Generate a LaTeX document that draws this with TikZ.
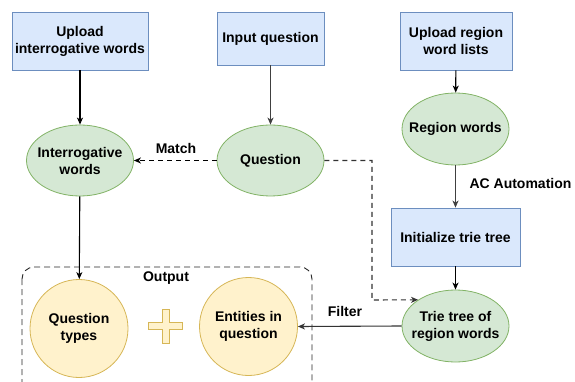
\documentclass[tikz,border=0pt]{standalone}
\usepackage{fontspec}
\setmainfont{Liberation Sans}
\usetikzlibrary{arrows.meta,shapes.geometric}
\definecolor{bluefill}{HTML}{DAE8FC}
\definecolor{bluedraw}{HTML}{6C8EBF}
\definecolor{greenfill}{HTML}{D5E8D4}
\definecolor{greendraw}{HTML}{82B366}
\definecolor{yellowfill}{HTML}{FFF2CC}
\definecolor{yellowdraw}{HTML}{D6B656}
\begin{document}
\begin{tikzpicture}[x=1pt,y=-1pt,
  font=\fontsize{14}{17}\selectfont\bfseries,
  every node/.style={align=center,inner sep=0pt},
  stepbox/.style={draw=bluedraw,fill=bluefill,line width=0.8pt,shape=rectangle},
  oval/.style={draw=greendraw,fill=greenfill,line width=0.8pt,shape=ellipse,minimum width=107pt,minimum height=71pt},
  result/.style={draw=yellowdraw,fill=yellowfill,line width=0.8pt,shape=circle,minimum size=98pt},
  flow/.style={line width=1.1pt,-{Stealth[length=7pt,width=6pt,inset=2pt]}},
  dashflow/.style={flow,dash pattern=on 5pt off 4pt},
  tag/.style={text=black,font=\fontsize{14}{17}\selectfont\bfseries}
]
\useasboundingbox (0,0) rectangle (575,382);
\clip (0,0) rectangle (575,382);

% output group frame
\draw[black!85,line width=0.9pt,dash pattern=on 6pt off 4pt,rounded corners=12pt]
  (22,267) rectangle (312,400);
\node[tag] (outlbl) at (166,278) {Output};

% input boxes
\node[stepbox,minimum width=136pt,minimum height=58pt] (upiw) at (80,41) {Upload\\interrogative words};
\node[stepbox,minimum width=107pt,minimum height=53pt] (inq) at (270.5,38.5) {Input question};
\node[stepbox,minimum width=112pt,minimum height=58pt] (uprw) at (456,41) {Upload region\\word lists};
\node[stepbox,minimum width=129pt,minimum height=58pt] (init) at (455.5,237) {Initialize trie tree};

% intermediate ellipses
\node[oval,label={[tag]center:Interrogative\\words}] (iw) at (80,160.5) {};
\node[oval,label={[tag]center:Question}] (q) at (270.5,160.5) {};
\node[oval,minimum height=72pt,label={[tag]center:Region words}] (rw) at (455.5,129) {};
\node[oval,minimum height=72pt,label={[tag]center:Trie tree of\\region words}] (trie) at (455.5,326) {};

% results
\node[result,label={[tag]center:Question\\types}] (qt) at (79,328.5) {};
\node[result,label={[tag]center:Entities in\\question}] (ent) at (248.5,326.5) {};

% plus sign between the results
\draw[yellowdraw,fill=yellowfill,line width=0.8pt]
  (162,309) -- (169,309) -- (169,322.5) -- (182.5,322.5) -- (182.5,329.5)
  -- (169,329.5) -- (169,343) -- (162,343) -- (162,329.5) -- (148.5,329.5)
  -- (148.5,322.5) -- (162,322.5) -- cycle;

% connectors
\draw[flow] (upiw) -- (iw);
\draw[flow,black!75] (inq) -- (q);
\draw[flow] (uprw) -- (rw);
\draw[flow,black!75] (rw) -- (init);
\node[tag] (aclbl) at (520.5,183) {AC Automation};
\draw[flow] (init) -- (trie);
\draw[flow] (iw) -- (qt);
\draw[dashflow] (q) -- (iw);
\node[tag] (matchlbl) at (176,148) {Match};
\coordinate (bendA) at (372,160.5);
\coordinate (bendB) at (372,300);
\draw[dashflow,black!80] (q.east) -- (bendA) -- (bendB) -- (trie.145);
\draw[flow,black!80] (trie.west) -- (ent.east);
\node[tag] (filterlbl) at (345,311) {Filter};
\end{tikzpicture}
\end{document}
